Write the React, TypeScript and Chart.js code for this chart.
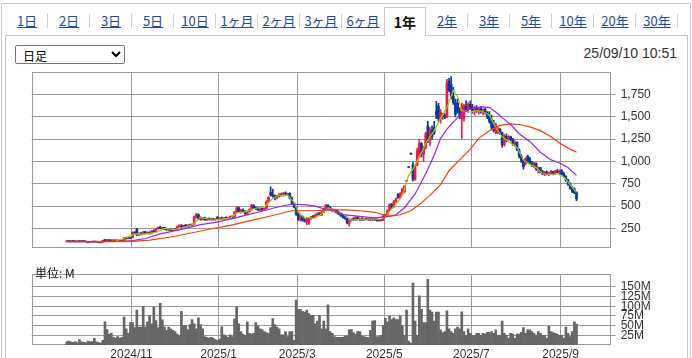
import React, { useEffect, useRef } from "react";
import { Chart, registerables } from "chart.js";
Chart.register(...registerables);

// ---- data (trading-day index 0 = first listed day, ~2024/09/18) ----
const ohlc: number[][] = [
  [100,110,98,104],[105,112,100,102],[102,108,99,106],[106,110,101,103],[103,106,99,100],
  [100,104,97,102],[102,105,99,101],[101,104,98,103],[103,106,100,101],[101,103,95,97],
  [97,100,88,92],[92,98,90,96],[96,100,94,98],[98,101,95,96],[96,99,93,97],
  [97,99,86,90],[90,96,84,94],[94,118,93,115],[115,124,110,112],[112,120,108,116],
  [116,119,110,111],[111,115,106,110],[110,114,106,112],[112,115,108,109],[109,113,105,111],
  [111,114,107,108],[108,116,106,114],[114,150,112,140],[140,152,130,135],[135,148,132,145],
  [145,150,136,138],[150,210,145,205],[205,215,185,195],[240,250,168,175],[175,200,170,195],
  [195,205,175,180],[180,215,178,210],[210,218,190,195],[195,210,188,205],[205,215,185,190],
  [190,228,188,222],[222,232,205,212],[212,250,210,245],[245,268,240,260],[260,275,245,250],
  [250,262,240,258],[258,262,235,240],[240,252,228,235],[235,248,225,245],[245,250,222,228],
  [228,245,225,240],[240,250,232,236],[236,275,234,270],[270,290,262,282],[282,292,258,265],
  [265,285,262,280],[280,295,272,276],[276,290,268,286],[286,298,278,282],[282,300,275,296],
  [296,390,294,380],[380,418,365,405],[405,412,350,360],[360,378,342,350],[350,372,345,368],
  [368,375,340,345],[345,365,338,358],[358,368,345,350],[350,362,340,355],[355,365,342,346],
  [346,358,338,352],[375,382,350,355],[355,368,348,362],[362,375,352,358],[358,372,350,368],
  [368,378,355,360],[360,375,352,372],[372,388,365,384],[384,392,368,375],[375,440,372,432],
  [432,495,425,480],[480,492,430,440],[440,462,420,455],[455,468,430,436],[436,448,405,415],
  [415,445,400,440],[440,470,432,462],[462,520,455,505],[505,515,470,478],[478,490,458,470],
  [470,485,450,455],[455,472,445,468],[468,480,452,460],[460,478,450,472],[472,560,468,550],
  [550,605,540,595],[650,716,610,625],[625,690,600,610],[610,625,570,590],[590,620,580,612],
  [612,640,600,632],[632,645,610,618],[618,650,612,644],[644,658,625,630],[630,645,615,640],
  [640,648,580,590],[590,600,520,530],[530,540,480,490],[480,490,395,410],[410,420,340,350],
  [350,395,330,385],[385,390,330,340],[340,360,320,330],[330,365,290,355],[310,370,295,360],
  [360,385,350,378],[378,395,365,372],[372,410,368,402],[402,425,390,418],[418,430,395,400],
  [400,440,395,432],[432,480,425,470],[470,520,462,508],[508,515,470,480],[480,495,455,462],
  [462,470,440,448],[448,465,430,455],[455,460,420,425],[425,440,405,410],[410,420,385,395],
  [395,405,365,372],[372,385,350,360],[360,365,300,312],[312,345,275,335],[335,360,330,352],
  [352,370,340,345],[345,380,340,372],[372,378,345,350],[350,365,335,360],[360,370,340,345],
  [345,360,338,355],[355,368,345,350],[350,362,335,358],[358,365,340,345],[345,358,335,352],
  [352,360,340,348],[348,356,330,336],[336,350,328,345],[345,352,332,340],[340,395,338,388],
  [388,410,375,402],[402,460,398,452],[452,525,448,515],[515,530,470,490],[490,560,485,550],
  [550,590,540,580],[630,640,585,595],[595,650,585,640],[640,700,630,690],[660,730,650,722],
  [778,782,778,782],[932,932,932,932],[1082,1082,1082,1082],[960,990,780,800],[800,960,790,940],
  [960,1150,950,1120],[1060,1245,1040,1200],[1200,1210,1050,1080],[1080,1170,1000,1150],[1150,1330,1140,1310],
  [1400,1450,1210,1240],[1240,1380,1180,1350],[1350,1400,1250,1280],[1380,1450,1300,1320],[1560,1673,1480,1520],
  [1620,1650,1450,1480],[1480,1580,1430,1550],[1500,1540,1470,1510],[1510,1535,1480,1495],[1500,1920,1490,1880],
  [1900,1930,1780,1800],[1860,1950,1700,1730],[1730,1830,1640,1660],[1660,1700,1500,1530],[1650,1700,1540,1560],
  [1560,1600,1480,1500],[1480,1655,1258,1620],[1480,1640,1450,1620],[1620,1680,1560,1580],[1580,1660,1550,1640],
  [1640,1680,1580,1600],[1600,1640,1540,1560],[1560,1620,1520,1600],[1600,1625,1550,1570],[1570,1610,1530,1590],
  [1590,1615,1540,1560],[1560,1590,1520,1580],[1580,1600,1530,1545],[1545,1560,1480,1500],[1500,1560,1430,1450],
  [1450,1520,1360,1380],[1400,1460,1330,1350],[1320,1430,1310,1410],[1330,1380,1310,1365],[1360,1370,1300,1320],
  [1320,1330,1160,1190],[1190,1300,1170,1280],[1280,1310,1220,1250],[1250,1290,1240,1275],[1275,1285,1230,1245],
  [1245,1260,1180,1200],[1200,1230,1170,1215],[1215,1220,1120,1130],[1130,1140,1040,1060],[1060,1080,990,1010],
  [1010,1020,913,940],[975,1040,960,1030],[1060,1070,990,1000],[1030,1045,975,985],[985,1000,940,960],
  [960,990,930,980],[980,985,900,915],[915,940,870,930],[930,935,870,880],[880,900,850,860],
  [860,890,840,880],[880,895,850,865],[865,880,840,870],[870,900,855,885],[885,890,850,860],
  [860,900,855,890],[890,910,870,880],[880,905,860,895],[895,910,850,860],[860,880,820,830],
  [830,840,780,790],[790,800,730,745],[745,760,690,700],[700,720,650,665],[690,705,640,650],
  [650,660,560,580],
];

// volume in millions of shares
const volumes: number[] = [
  8,10,8,7,9,6,14,8,7,6,10,8,9,17,8,6,5,12,
  60,40,28,30,20,18,22,18,20,72,42,30,58,
  58,45,90,46,46,99,46,60,77,55,
  98,63,45,108,65,46,38,46,42,38,
  35,28,25,87,50,50,40,53,66,55,
  42,70,53,42,22,20,18,20,18,14,
  12,15,47,26,24,20,26,22,67,99,
  55,35,28,25,60,30,28,30,58,50,
  42,40,35,32,30,45,68,53,46,42,
  26,26,35,22,35,35,12,116,92,92,
  87,85,90,81,77,77,55,62,77,42,
  62,42,104,35,30,22,20,20,20,20,
  23,23,39,40,32,28,35,35,24,22,
  20,20,38,62,63,22,22,25,50,69,
  60,75,66,70,66,66,75,49,25,90,
  10,5,160,62,25,127,92,58,58,170,
  90,85,62,85,85,39,32,35,88,42,
  35,30,42,46,42,86,35,25,42,30,
  25,25,30,30,25,30,28,33,33,35,
  30,39,25,25,62,30,25,18,30,28,
  17,28,28,33,45,30,39,39,35,30,
  25,35,30,25,25,18,48,35,32,30,
  28,25,25,18,46,30,22,35,60,54,
];

// moving averages: [trading-day index, value]
const maShort: number[][] = [
  [0,100],[16,100],[23,108],[27,136],[32,188],[37,185],[42,205],[46,250],[51,235],[56,265],
  [59,291],[63,371],[67,355],[72,352],[77,365],[80,423],[84,435],[89,475],[93,490],[97,585],
  [100,620],[104,622],[107,540],[109,440],[111,380],[116,361],[119,395],[123,481],[126,447],[131,398],
  [134,343],[138,350],[143,355],[148,352],[150,380],[152,440],[156,550],[158,620],[161,844],[163,913],
  [166,1051],[170,1242],[173,1345],[176,1483],[179,1604],[182,1795],[184,1725],[186,1570],[190,1553],[193,1570],
  [196,1560],[199,1518],[202,1380],[205,1276],[209,1207],[212,1155],[215,1017],[218,965],[221,931],[224,862],
  [228,855],[231,862],[234,827],[237,740],[240,654],
];
const maMid: number[][] = [
  [0,100],[6,105],[16,100],[25,105],[31,112],[37,136],[44,188],[53,232],[63,291],[70,316],
  [77,354],[84,395],[91,436],[98,481],[103,509],[107,520],[112,516],[117,499],[121,470],[126,447],
  [131,400],[138,385],[145,368],[150,378],[155,402],[159,481],[164,636],[169,862],[173,1069],[176,1259],
  [179,1362],[183,1466],[186,1535],[190,1587],[193,1604],[196,1611],[199,1604],[202,1553],[205,1491],[209,1414],
  [213,1310],[218,1224],[223,1103],[228,1017],[232,983],[236,931],[240,844],
];
const maLong: number[][] = [
  [0,100],[16,100],[31,105],[39,118],[49,153],[58,195],[67,240],[77,284],[86,333],[96,388],
  [103,430],[106,447],[110,447],[119,450],[129,457],[131,457],[138,447],[145,430],[150,395],[152,385],
  [157,402],[162,447],[166,516],[171,620],[176,740],[180,896],[185,1017],[190,1138],[194,1259],[199,1345],
  [204,1404],[209,1421],[213,1414],[218,1387],[223,1345],[228,1276],[232,1207],[237,1138],[240,1103],
];

const monthStartDays = [31, 72, 109, 150, 191, 233];
const monthLabels = ["2024/11", "2025/1", "2025/3", "2025/5", "2025/7", "2025/9"];
const priceTicks = [250, 500, 750, 1000, 1250, 1500, 1750];
const volumeTicks = [25, 50, 75, 100, 125, 150];
const tabs = ["1日","2日","3日","5日","10日","1ヶ月","2ヶ月","3ヶ月","6ヶ月","1年","2年","3年","5年","10年","20年","30年"];
const selectedTab = "1年";
const timestamp = "25/09/10 10:51";
const volumeUnit = "単位: M";

// ---- styles ----
const UP = "#f0174a";
const DOWN = "#0a3799";
const GRID = "#9a9a9a";
const TEXT = "#333";
const LINK = "#2347a8";
const AXIS_FONT = { family: "'Liberation Sans', Arial, sans-serif", size: 12 };
const X_MIN = -16.5;
const X_MAX = 256.1;

const framePlugin = {
  id: "frame",
  beforeDatasetsDraw(chart: any) {
    const { ctx, chartArea: a } = chart;
    ctx.save();
    ctx.strokeStyle = GRID;
    ctx.lineWidth = 1;
    const l = Math.round(a.left) + 0.5, t = Math.round(a.top) + 0.5;
    const r = Math.round(a.right) - 0.5, b = Math.round(a.bottom) - 0.5;
    ctx.strokeRect(l, t, r - l, b - t);
    ctx.restore();
  },
};

function xScale(showLabels: boolean, height: number) {
  return {
    type: "linear" as const,
    min: X_MIN,
    max: X_MAX,
    offset: false,
    grid: { color: GRID, offset: false, drawTicks: false, lineWidth: 1 },
    border: { display: false },
    ticks: {
      display: showLabels,
      font: AXIS_FONT,
      color: TEXT,
      padding: 2,
      maxRotation: 0,
      autoSkip: false,
      callback: (_v: any, i: number) => monthLabels[i],
    },
    afterBuildTicks: (s: any) => {
      s.ticks = monthStartDays.map((d) => ({ value: d - 0.5 }));
    },
    afterFit: (s: any) => {
      s.height = height;
    },
  };
}

function yScale(min: number, max: number, ticks: number[], fmt: (v: number) => string) {
  return {
    position: "right" as const,
    min,
    max,
    grid: { color: GRID, lineWidth: 1, drawTicks: true, tickLength: 5, tickColor: GRID },
    border: { display: false },
    ticks: {
      font: AXIS_FONT,
      color: TEXT,
      padding: 5,
      autoSkip: false,
      callback: (v: any) => fmt(Number(v)),
    },
    afterBuildTicks: (s: any) => {
      s.ticks = ticks.map((v) => ({ value: v }));
    },
    afterFit: (s: any) => {
      s.width = 81.3;
    },
  };
}

export default function App() {
  const priceRef = useRef<HTMLCanvasElement>(null);
  const volRef = useRef<HTMLCanvasElement>(null);

  useEffect(() => {
    const colors = ohlc.map((r) => (r[3] > r[0] ? UP : DOWN));
    const line = (pts: number[][], color: string) => ({
      type: "line" as const,
      data: pts.map(([d, v]) => ({ x: d, y: v })),
      borderColor: color,
      borderWidth: 1.2,
      pointRadius: 0,
      tension: 0,
      order: 0,
    });

    const price = new Chart(priceRef.current!, {
      type: "bar",
      data: {
        datasets: [
          line(maLong, "#ff3c00"),
          line(maMid, "#a020f0"),
          line(maShort, "#9acd00"),
          {
            type: "bar",
            data: ohlc.map((r, i) => ({ x: i, y: [r[0], r[3]] })),
            backgroundColor: colors,
            grouped: false,
            barPercentage: 1,
            categoryPercentage: 1,
            maxBarThickness: 2,
            minBarLength: 1,
            order: 1,
          } as any,
          {
            type: "bar",
            data: ohlc.map((r, i) => ({ x: i, y: [r[2], r[1]] })),
            backgroundColor: colors,
            grouped: false,
            barPercentage: 1,
            categoryPercentage: 1,
            maxBarThickness: 1,
            minBarLength: 1,
            order: 2,
          } as any,
        ],
      },
      options: {
        responsive: false,
        animation: false,
        events: [],
        layout: { padding: { left: 31.7, right: 0, top: 5.5, bottom: 5 } },
        plugins: { legend: { display: false }, tooltip: { enabled: false } },
        scales: {
          x: xScale(false, 0) as any,
          y: yScale(32, 2000, priceTicks, (v) => v.toLocaleString("en-US")) as any,
        },
      },
      plugins: [framePlugin],
    });

    const vol = new Chart(volRef.current!, {
      type: "bar",
      data: {
        datasets: [
          {
            data: volumes.map((v, i) => ({ x: i, y: v })),
            backgroundColor: "#666666",
            barPercentage: 1,
            categoryPercentage: 1,
            maxBarThickness: 2,
          } as any,
        ],
      },
      options: {
        responsive: false,
        animation: false,
        events: [],
        layout: { padding: { left: 31.7, right: 0, top: 4.7, bottom: 0 } },
        plugins: { legend: { display: false }, tooltip: { enabled: false } },
        scales: {
          x: xScale(true, 13) as any,
          y: yScale(0, 183, volumeTicks, (v) => `${v}M`) as any,
        },
      },
      plugins: [framePlugin],
    });

    return () => {
      price.destroy();
      vol.destroy();
    };
  }, []);

  const selIndex = tabs.indexOf(selectedTab);

  return (
    <div
      style={{
        position: "fixed",
        left: 0,
        top: 0,
        width: 692,
        height: 358,
        background: "#fff",
        overflow: "hidden",
        fontFamily: "'Noto Sans CJK JP', sans-serif",
      }}
    >
      {/* outer frame */}
      <div style={{ position: "absolute", left: 1, top: 3, width: 690, height: 420, border: "1px solid #c8c8c8", boxSizing: "border-box" }} />
      {/* panel frame */}
      <div style={{ position: "absolute", left: 5, top: 35, width: 683, height: 420, border: "1px solid #c8c8c8", boxSizing: "border-box" }} />
      {/* tab separators */}
      {tabs.map((_, k) =>
        k === selIndex || k === selIndex - 1 ? null : (
          <div key={"s" + k} style={{ position: "absolute", left: 47 + 42 * k, top: 14, width: 1, height: 14, background: "#cfcfcf" }} />
        )
      )}
      {/* tabs */}
      {tabs.map((t, k) => {
        const sel = k === selIndex;
        return (
          <div
            key={t}
            style={{
              position: "absolute",
              left: 6 + 42 * k,
              top: 7,
              width: 42,
              height: sel ? 29 : 28,
              lineHeight: "28px",
              textAlign: "center",
              fontSize: sel ? 14 : 13,
              fontWeight: sel ? "bold" : "normal",
              color: sel ? "#111" : LINK,
              textDecoration: sel ? "none" : "underline",
              background: sel ? "#fff" : "transparent",
              border: sel ? "1px solid #c8c8c8" : "none",
              borderBottom: "none",
              boxSizing: "border-box",
              zIndex: sel ? 2 : 1,
              whiteSpace: "nowrap",
            }}
          >
            {t}
          </div>
        );
      })}
      {/* select */}
      <select
        defaultValue="daily"
        style={{
          position: "absolute",
          left: 15,
          top: 45,
          width: 110,
          height: 19,
          fontSize: 12,
          fontFamily: "'Noto Sans CJK JP', sans-serif",
          padding: "0 0 0 3px",
          margin: 0,
          border: "1px solid #767676",
          borderRadius: 2,
          background: "#fff",
          color: "#000",
          boxSizing: "border-box",
        }}
      >
        <option value="daily">日足</option>
      </select>
      {/* timestamp */}
      <div
        style={{
          position: "absolute",
          right: 15,
          top: 45,
          fontSize: 14,
          lineHeight: "16px",
          fontFamily: "'Liberation Sans', Arial, sans-serif",
          color: TEXT,
        }}
      >
        {timestamp}
      </div>
      <canvas
        ref={priceRef}
        width={692}
        height={200}
        style={{ position: "absolute", left: 0, top: 60, width: 692, height: 200, display: "block" }}
      />
      <canvas
        ref={volRef}
        width={692}
        height={96}
        style={{ position: "absolute", left: 0, top: 262, width: 692, height: 96, display: "block" }}
      />
      <div
        style={{
          position: "absolute",
          left: 35,
          top: 266,
          fontSize: 12,
          lineHeight: "14px",
          color: "#111",
        }}
      >
        {volumeUnit}
      </div>
    </div>
  );
}
